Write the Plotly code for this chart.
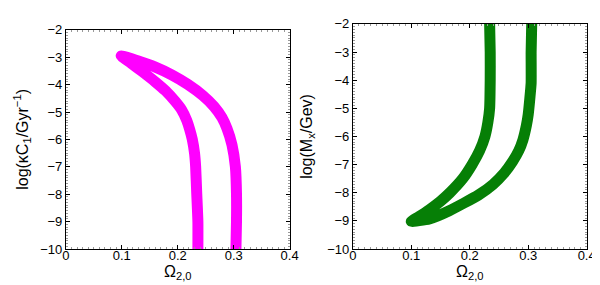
import plotly.graph_objects as go

# Left panel: log(kC1/Gyr^-1) vs Omega_2,0 (one continuous band: inner branch up to tip, outer branch down)
left_inner_omega = [0.236, 0.236, 0.234, 0.232, 0.230, 0.226, 0.221, 0.216, 0.207, 0.195, 0.178, 0.160, 0.137, 0.117, 0.099]
left_inner_logk  = [-10.0, -9.0, -8.0, -7.0, -6.5, -6.0, -5.61, -5.3, -4.92, -4.6, -4.22, -3.9, -3.53, -3.22, -2.95]
left_outer_omega = [0.099, 0.127, 0.160, 0.190, 0.218, 0.245, 0.265, 0.279, 0.288, 0.297, 0.303, 0.305, 0.305, 0.304]
left_outer_logk  = [-2.95, -3.12, -3.36, -3.65, -3.99, -4.4, -4.8, -5.2, -5.6, -6.2, -7.0, -8.0, -9.0, -10.0]

# Right panel: log(Mx/GeV) vs Omega_2,0
right_inner_omega = [0.234, 0.235, 0.235, 0.234, 0.231, 0.226, 0.217, 0.204, 0.188, 0.166, 0.150, 0.131, 0.113, 0.100]
right_inner_logm  = [-2.0, -3.0, -4.0, -5.0, -5.5, -6.0, -6.5, -7.0, -7.5, -8.0, -8.3, -8.6, -8.85, -9.02]
right_outer_omega = [0.100, 0.131, 0.165, 0.215, 0.240, 0.259, 0.273, 0.284, 0.291, 0.297, 0.300, 0.303, 0.305, 0.305, 0.306]
right_outer_logm  = [-9.02, -8.93, -8.64, -8.08, -7.7, -7.3, -6.9, -6.5, -6.12, -5.6, -5.22, -4.6, -4.1, -3.0, -2.0]

x_ticks = [0, 0.1, 0.2, 0.3, 0.4]
x_tick_labels = ["0", "0.1", "0.2", "0.3", "0.4"]
y_ticks = [-10, -9, -8, -7, -6, -5, -4, -3, -2]

FONT = "Liberation Sans, Arial, Helvetica, sans-serif"

fig = go.Figure()
fig.add_trace(go.Scatter(
    x=left_inner_omega + left_outer_omega[1:],
    y=left_inner_logk + left_outer_logk[1:],
    mode="lines", line=dict(color="#ff00ff", width=11, shape="spline", smoothing=0.5),
    xaxis="x", yaxis="y", showlegend=False, hoverinfo="skip"))
fig.add_trace(go.Scatter(
    x=right_inner_omega + right_outer_omega[1:],
    y=right_inner_logm + right_outer_logm[1:],
    mode="lines", line=dict(color="#067f06", width=11, shape="spline", smoothing=0.5),
    xaxis="x2", yaxis="y2", showlegend=False, hoverinfo="skip"))

def xax(domain, anchor):
    return dict(domain=domain, anchor=anchor, range=[0, 0.4], tickvals=x_ticks, ticktext=x_tick_labels,
                ticks="inside", ticklen=4, tickcolor="black", showline=True, linecolor="black", linewidth=1,
                mirror="allticks", showgrid=False, zeroline=False,
                ticklabelposition="outside", ticklabelstandoff=-6,
                minor=dict(ticks="inside", ticklen=2, dtick=0.01, tickcolor="#999999"),
                tickfont=dict(family=FONT, size=13, color="black"))

def yax(domain, anchor, title, standoff):
    return dict(domain=domain, anchor=anchor, range=[-10, -2], tickvals=y_ticks,
                ticks="inside", ticklen=4, tickcolor="black", showline=True, linecolor="black", linewidth=1,
                mirror="allticks", showgrid=False, zeroline=False,
                minor=dict(ticks="inside", ticklen=2, dtick=0.1, tickcolor="#999999"),
                tickfont=dict(family=FONT, size=13, color="black"),
                title=dict(text=title, font=dict(family=FONT, size=16, color="black"), standoff=standoff))

fig.update_layout(
    width=600, height=285,
    margin=dict(l=0, r=0, t=0, b=0),
    paper_bgcolor="white", plot_bgcolor="white",
    xaxis=xax([0.0917, 0.473], "y"),
    yaxis=yax([0.1333, 0.945], "x", "log(κC<sub>1</sub>/Gyr<sup>−1</sup>)", 7),
    xaxis2=xax([0.5806, 0.979], "y2"),
    yaxis2=yax([0.1333, 0.967], "x2", "log(M<sub>x</sub>/Gev)", 10),
)

for dom in ([0.0917, 0.473], [0.5806, 0.979]):
    fig.add_annotation(text="Ω<sub>2,0</sub>", xref="paper", yref="paper",
                       x=(dom[0] + dom[1]) / 2, y=0.004, xanchor="center", yanchor="bottom",
                       showarrow=False, font=dict(family=FONT, size=16, color="black"))

fig.write_html("out.html")
